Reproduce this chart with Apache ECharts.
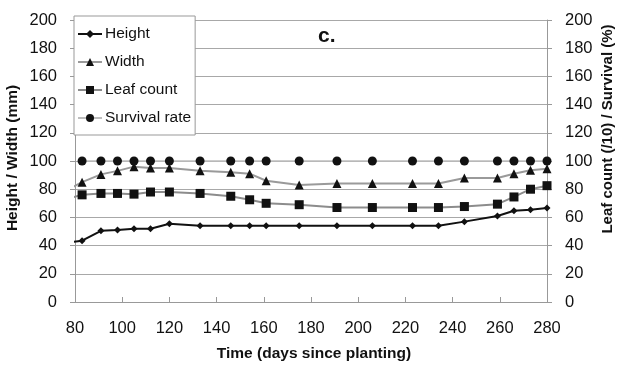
<!DOCTYPE html>
<html><head><meta charset="utf-8">
<script src="https://cdn.jsdelivr.net/npm/echarts@6/dist/echarts.min.js"></script>
<style>html,body{margin:0;padding:0;background:#fff}#c{width:621px;height:365px}</style>
</head><body><div id="c"></div>
<script>
// Days since planting (first point lies left of the axis and is clipped, as in the reference)
const days = [76, 83, 91, 98, 105, 112, 120, 133, 146, 154, 161, 175, 191, 206, 223, 234, 245, 259, 266, 273, 280];
const heightMm = [42, 43.5, 50.5, 51, 52, 52, 55.5, 54, 54, 54, 54, 54, 54, 54, 54, 54, 57, 61, 64.7, 65.5, 66.7];
const widthMm = [79, 85, 90.5, 93, 96, 95, 95, 93, 92, 91, 86, 83, 84, 84, 84, 84, 88, 88, 91, 93.5, 94.5];
const leafCount = [73, 76, 77, 77, 76.5, 78, 78, 77, 75, 72.5, 70, 69, 67, 67, 67, 67, 67.7, 69.4, 74.5, 80, 82.5];
const survival = [null, 100, 100, 100, 100, 100, 100, 100, 100, 100, 100, 100, 100, 100, 100, 100, 100, 100, 100, 100, 100];
const xTicks = [80, 100, 120, 140, 160, 180, 200, 220, 240, 260, 280];
const yTicks = [0, 20, 40, 60, 80, 100, 120, 140, 160, 180, 200];

const pairs = arr => days.map((d, i) => [d, arr[i]]);
const FONT = '"Liberation Sans", Arial, sans-serif';
const chart = echarts.init(document.getElementById('c'), null, {renderer: 'canvas'});
const yAxisBase = {
  type: 'value', min: yTicks[0], max: yTicks[yTicks.length - 1], interval: yTicks[1] - yTicks[0],
  axisLine: {show: true, lineStyle: {color: '#999', width: 1}},
  axisTick: {show: true, inside: false, length: 5, lineStyle: {color: '#999'}},
  axisLabel: {fontSize: 16.5, color: '#111', fontFamily: FONT, margin: 18}
};
chart.setOption({
  animation: false,
  backgroundColor: '#fff',
  grid: {left: 75, right: 74, top: 20, bottom: 63, containLabel: false},
  xAxis: {
    type: 'value', min: xTicks[0], max: xTicks[xTicks.length - 1], interval: xTicks[1] - xTicks[0],
    axisLine: {show: true, lineStyle: {color: '#999', width: 1}},
    axisTick: {show: true, inside: true, length: 5, lineStyle: {color: '#999'}},
    splitLine: {show: false},
    axisLabel: {fontSize: 16.5, color: '#111', fontFamily: FONT, margin: 18}
  },
  yAxis: [
    Object.assign({}, yAxisBase, {position: 'left', splitLine: {show: true, lineStyle: {color: '#a8a8a8', width: 1.2}}}),
    Object.assign({}, yAxisBase, {position: 'right', splitLine: {show: false}})
  ],
  legend: {
    orient: 'vertical', left: 74, top: 16,
    backgroundColor: '#fff', borderColor: '#999', borderWidth: 1,
    padding: [10, 4, 9, 3], itemGap: 12, itemWidth: 24, itemHeight: 10,
    textStyle: {fontSize: 15.5, color: '#111', fontFamily: FONT, padding: [0, 0, 0, -2]},
    data: ['Height', 'Width', 'Leaf count', 'Survival rate']
  },
  graphic: [
    {type: 'text', left: 318, top: 26, style: {text: 'c.', font: 'bold 21px ' + FONT, fill: '#111'}},
    {type: 'text', x: 13, y: 158, rotation: Math.PI / 2, style: {text: 'Height / Width (mm)', font: 'bold 15.5px ' + FONT, fill: '#111', align: 'center', verticalAlign: 'middle'}},
    {type: 'text', x: 608, y: 129, rotation: Math.PI / 2, style: {text: 'Leaf count (/10) / Survival (%)', font: 'bold 15px ' + FONT, fill: '#111', align: 'center', verticalAlign: 'middle'}},
    {type: 'text', x: 314, y: 354, style: {text: 'Time (days since planting)', font: 'bold 15.5px ' + FONT, fill: '#111', align: 'center', verticalAlign: 'middle'}}
  ],
  series: [
    {name: 'Height', type: 'line', yAxisIndex: 0, data: pairs(heightMm), symbol: 'diamond', symbolSize: 7,
     lineStyle: {color: '#111', width: 2}, itemStyle: {color: '#111'}, clip: true},
    {name: 'Width', type: 'line', yAxisIndex: 0, data: pairs(widthMm), symbol: 'triangle', symbolSize: 9,
     lineStyle: {color: '#9a9a9a', width: 2}, itemStyle: {color: '#111'}, clip: true},
    {name: 'Leaf count', type: 'line', yAxisIndex: 1, data: pairs(leafCount), symbol: 'rect', symbolSize: 9,
     lineStyle: {color: '#8c8c8c', width: 2}, itemStyle: {color: '#111'}, clip: true},
    {name: 'Survival rate', type: 'line', yAxisIndex: 1, data: pairs(survival), symbol: 'circle', symbolSize: 9,
     lineStyle: {color: '#bdbdbd', width: 1.5}, itemStyle: {color: '#111'}, clip: true, connectNulls: false}
  ]
});
</script></body></html>
